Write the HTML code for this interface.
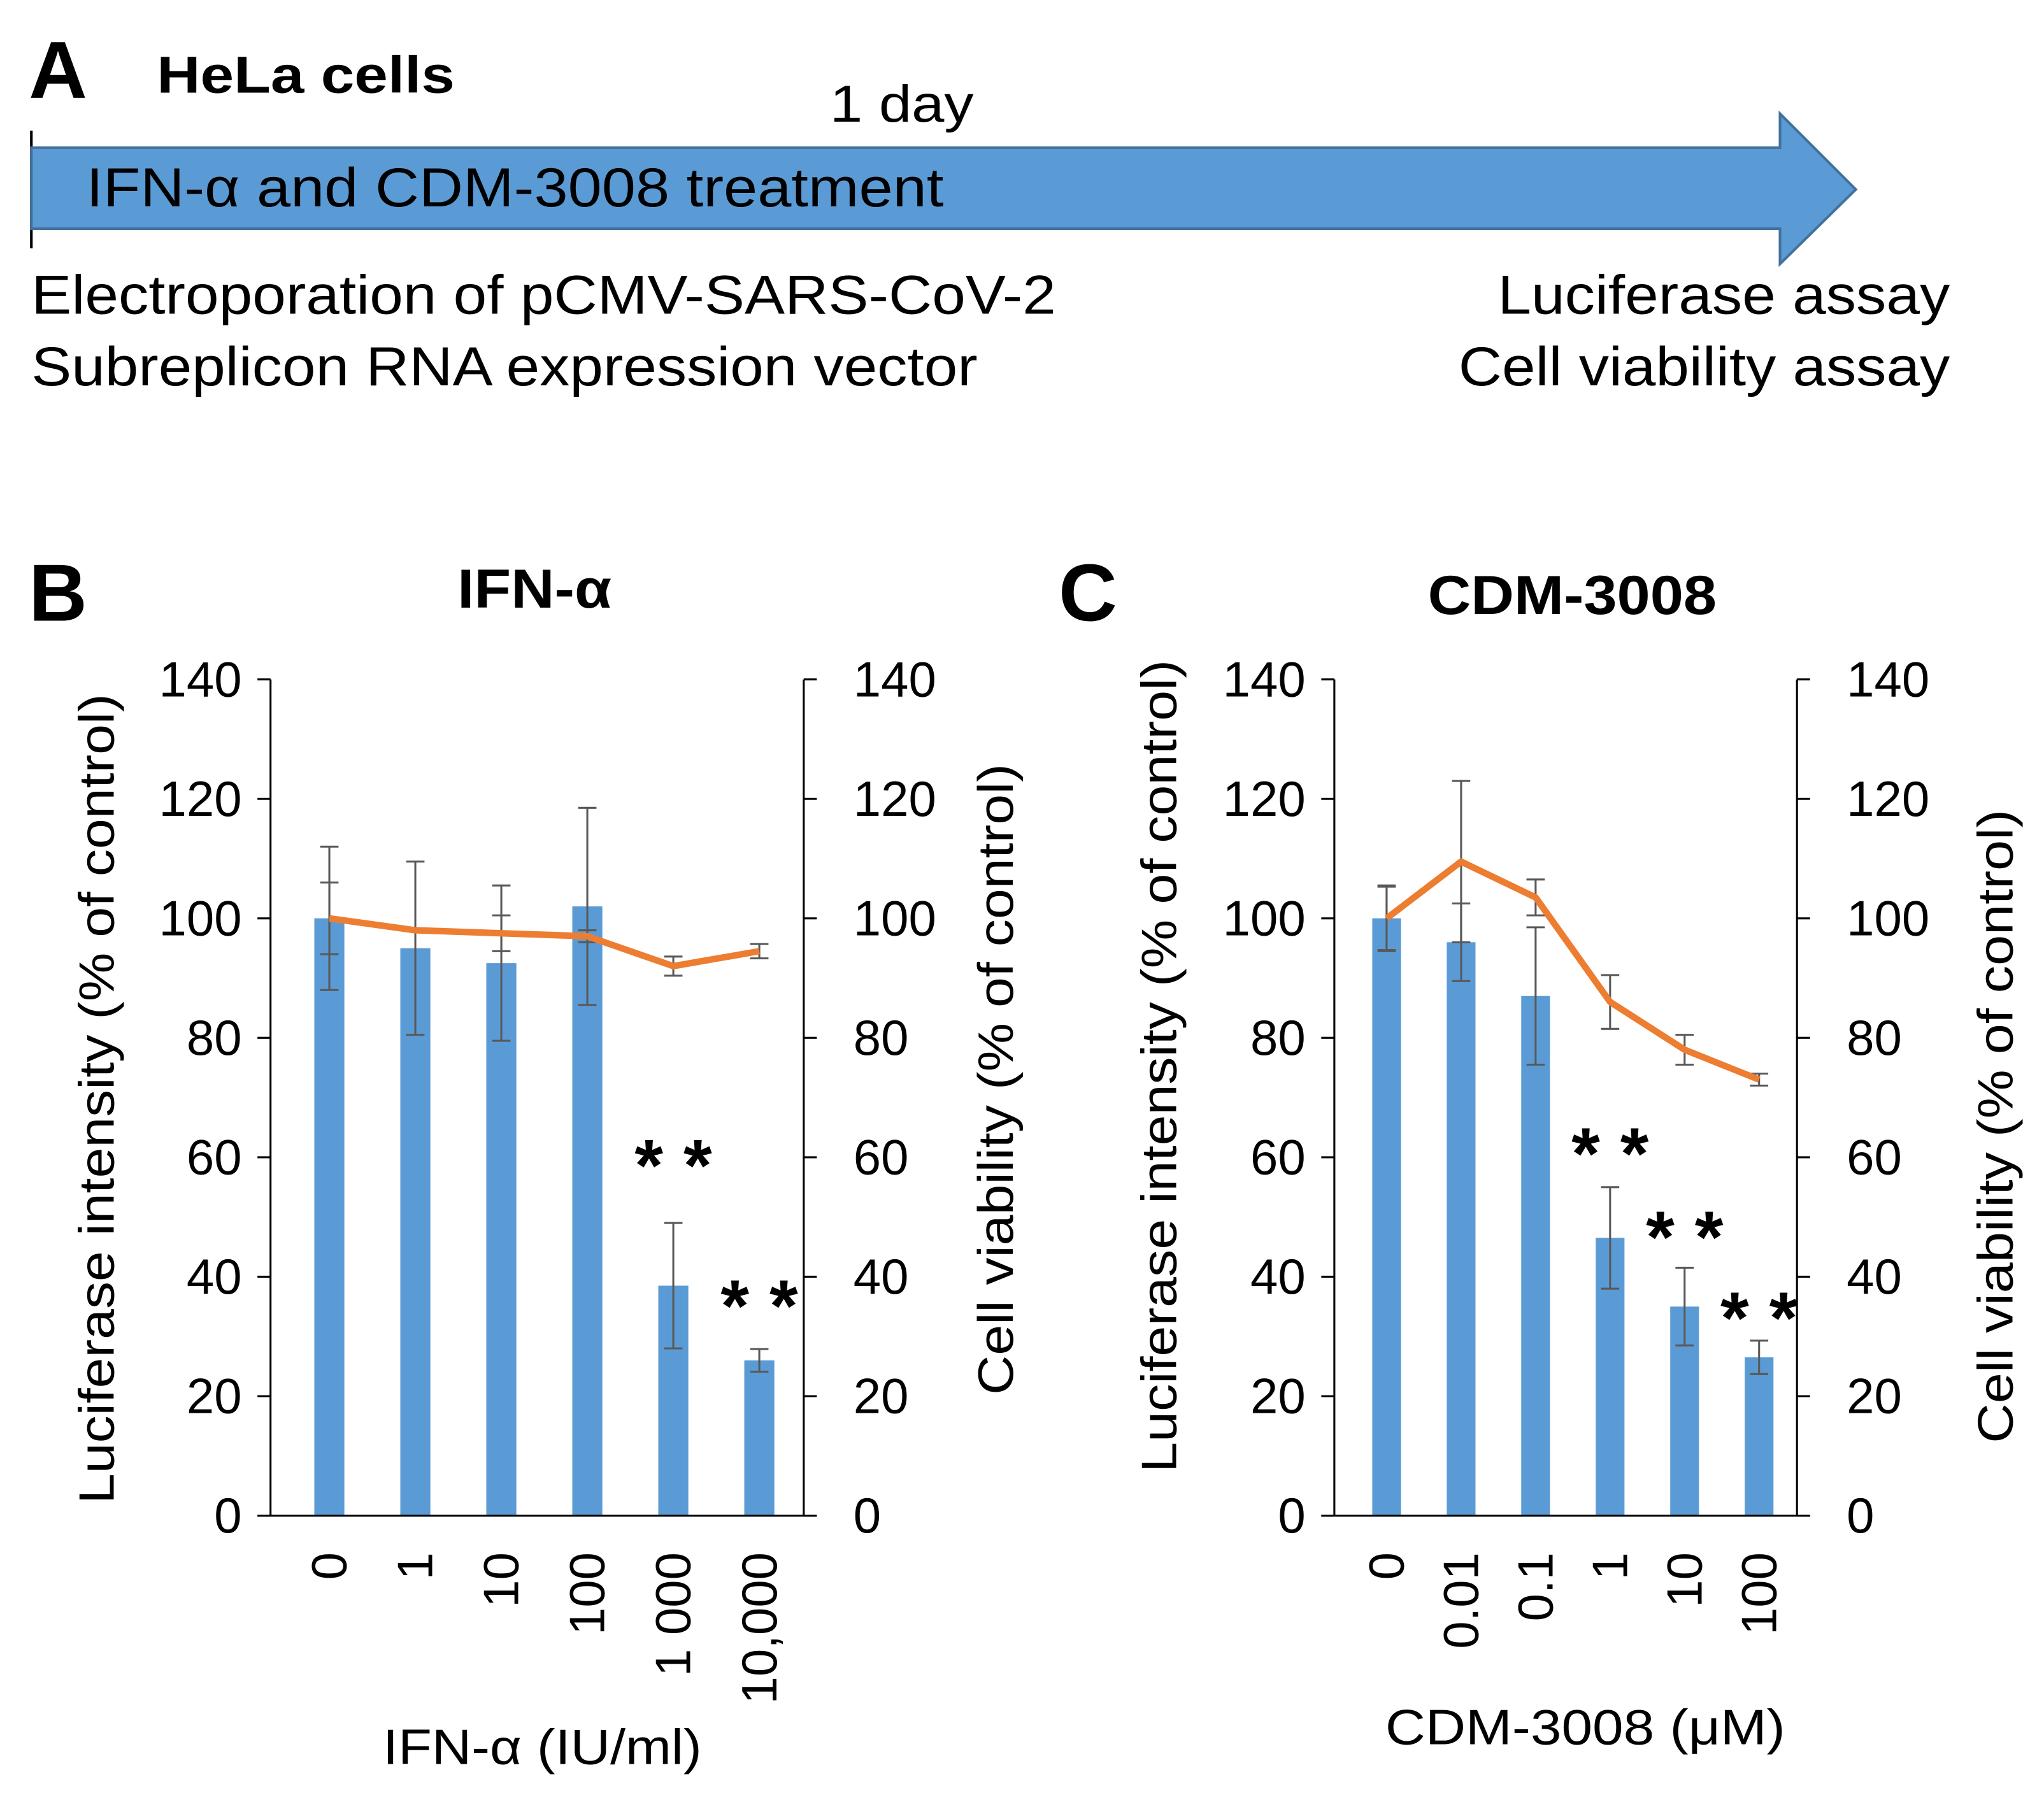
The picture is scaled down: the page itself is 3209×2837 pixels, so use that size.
<!DOCTYPE html>
<html><head><meta charset="utf-8"><style>
html,body{margin:0;padding:0;background:#fff}
svg{display:block}
text{font-family:"Liberation Sans",sans-serif;fill:#000}
</style></head><body>
<svg id="fig" width="3209" height="2837" viewBox="0 0 1564 1383" preserveAspectRatio="none" xmlns="http://www.w3.org/2000/svg">
<g>
<text x="22" y="75" font-size="62" font-weight="bold">A</text>
<text x="120" y="71" font-size="40" font-weight="bold" textLength="228" lengthAdjust="spacingAndGlyphs">HeLa cells</text>
<text x="635" y="93" font-size="40" textLength="110" lengthAdjust="spacingAndGlyphs">1 day</text>
<line x1="24" y1="100" x2="24" y2="190" stroke="#000" stroke-width="2"/>
<polygon points="24,113 1362,113 1362,87 1420,145 1362,202 1362,175 24,175" fill="#5b9bd5" stroke="#41719c" stroke-width="2"/>
<text x="66" y="158" font-size="42" textLength="656" lengthAdjust="spacingAndGlyphs">IFN-α and CDM-3008 treatment</text>
<text x="24" y="240" font-size="42" textLength="784" lengthAdjust="spacingAndGlyphs">Electroporation of pCMV-SARS-CoV-2</text>
<text x="24" y="295" font-size="42" textLength="724" lengthAdjust="spacingAndGlyphs">Subreplicon RNA expression vector</text>
<text x="1146" y="240" font-size="42" textLength="346" lengthAdjust="spacingAndGlyphs">Luciferase assay</text>
<text x="1116" y="295" font-size="42" textLength="376" lengthAdjust="spacingAndGlyphs">Cell viability assay</text>
</g>
<g id="panelB"></g>
<g id="panelC"></g>
</svg>
<script>
const bCategories = ["0","1","10","100","1 000","10,000"];
const bLuc = [100, 95, 92.5, 102, 38.5, 26];
const bLucErr = [12, 14.5, 13, 16.5, 10.5, 1.9];
const bViab = [100, 98, 97.5, 97, 92, 94.5];
const bViabErr = [6, 0, 3, 1, 1.6, 1.2];
const bSig = [false,false,false,false,true,true];
const bSigLevel = [0,0,0,0,60.5,37];

const cCategories = ["0","0.01","0.1","1","10","100"];
const cLuc = [100, 96, 87, 46.5, 35, 26.5];
const cLucErr = [5.3, 6.5, 11.5, 8.5, 6.5, 2.8];
const cViab = [100, 109.5, 103.5, 86, 78, 73];
const cViabErr = [5.5, 13.5, 3, 4.5, 2.5, 1];
const cSig = [false,false,false,true,true,true];
const cSigLevel = [0,0,0,62.5,48.5,35];

const yTicks = [0,20,40,60,80,100,120,140];
const NS = "http://www.w3.org/2000/svg";
function mk(parent, tag, attrs, txt){
  const e = document.createElementNS(NS, tag);
  for (const k in attrs) e.setAttribute(k, attrs[k]);
  if (txt !== undefined) e.textContent = txt;
  parent.appendChild(e); return e;
}
const yBottom = 1160, yTop = 520;
function yScale(v){ return yBottom - (v/140)*(yBottom-yTop); }

function drawPanel(g, cfg){
  const {xl, xr, first, last, bw, cats, luc, lucErr, viab, viabErr, sig, sigLevel} = cfg;
  const step = (last-first)/(cats.length-1);
  const xScale = i => first + step*i;
  cats.forEach((c,i)=>{
    const r = mk(g,'rect',{x:xScale(i)-bw/2,y:yScale(luc[i]),width:bw,height:yScale(0)-yScale(luc[i]),fill:'#5b9bd5'});
    
    
  });
  function errbar(i,v,e,name){
    if(!e) return;
    const x = xScale(i), y1=yScale(v-e), y2=yScale(v+e);
    const eg = mk(g,'g',{stroke:'#595959','stroke-width':1.5,fill:'none'});
    
    
    mk(eg,'line',{x1:x,y1:y1,x2:x,y2:y2});
    mk(eg,'line',{x1:x-7,y1:y1,x2:x+7,y2:y1});
    mk(eg,'line',{x1:x-7,y1:y2,x2:x+7,y2:y2});
  }
  cats.forEach((c,i)=>errbar(i,luc[i],lucErr[i],'luciferase-error-'+i));
  cats.forEach((c,i)=>errbar(i,viab[i],viabErr[i],'viability-error-'+i));
  const pts = viab.map((v,i)=>xScale(i)+','+yScale(v)).join(' ');
  const pl = mk(g,'polyline',{points:pts,fill:'none',stroke:'#ed7d31','stroke-width':5,'stroke-linejoin':'round'});
  
  
  const ax = mk(g,'g',{stroke:'#000','stroke-width':1.5});
  
  
  mk(ax,'line',{x1:xl,y1:yTop,x2:xl,y2:yBottom});
  mk(ax,'line',{x1:xr,y1:yTop,x2:xr,y2:yBottom});
  mk(ax,'line',{x1:xl-10,y1:yBottom,x2:xr+10,y2:yBottom});
  yTicks.forEach(t=>{
    mk(ax,'line',{x1:xl-10,y1:yScale(t),x2:xl,y2:yScale(t)});
    mk(ax,'line',{x1:xr,y1:yScale(t),x2:xr+10,y2:yScale(t)});
    const tl = mk(g,'text',{x:xl-22,y:yScale(t)+13,'font-size':38,'text-anchor':'end'},String(t));
    
    
    const tr = mk(g,'text',{x:xr+38,y:yScale(t)+13,'font-size':38},String(t));
    
    
  });
  cats.forEach((c,i)=>{
    const x = xScale(i)+13, y = 1188;
    const t = mk(g,'text',{x:x,y:y,'font-size':38,'text-anchor':'end',transform:`rotate(-90 ${x} ${y})`},c);
    
    
  });
  cats.forEach((c,i)=>{
    if(!sig[i]) return;
    const s = mk(g,'text',{x:xScale(i),y:yScale(sigLevel[i])+28,'font-size':56,'font-weight':'bold','text-anchor':'middle'},'* *');
    
    
  });
}
const gB = document.getElementById('panelB');
drawPanel(gB,{xl:207,xr:615,first:252,last:581,bw:23,cats:bCategories,luc:bLuc,lucErr:bLucErr,viab:bViab,viabErr:bViabErr,sig:bSig,sigLevel:bSigLevel});
const gC = document.getElementById('panelC');
drawPanel(gC,{xl:1021,xr:1375,first:1061,last:1346,bw:22,cats:cCategories,luc:cLuc,lucErr:cLucErr,viab:cViab,viabErr:cViabErr,sig:cSig,sigLevel:cSigLevel});

function label(g,name,txt,x,y,size,opts){
  opts = opts||{};
  const a = {x:x,y:y,'font-size':size,'text-anchor':opts.anchor||'middle'};
  if(opts.bold) a['font-weight']='bold';
  if(opts.len){ a.textLength=opts.len; a.lengthAdjust='spacingAndGlyphs'; }
  if(opts.rot) a.transform=`rotate(-90 ${x} ${y})`;
  const t = mk(g,'text',a,txt);
  
  
}
label(gB,'panel-b-label','B',22,475,62,{anchor:'start',bold:true});
label(gB,'panel-b-title','IFN-α',409,465,42,{bold:true,len:118});
label(gB,'left-y-axis-title','Luciferase intensity (% of control)',87,841,38,{rot:true,len:620});
label(gB,'right-y-axis-title','Cell viability (% of control)',775,826,38,{rot:true,len:483});
label(gB,'x-axis-title','IFN-α (IU/ml)',415,1350,38,{len:244});
label(gC,'panel-c-label','C',810,475,62,{anchor:'start',bold:true});
label(gC,'panel-c-title','CDM-3008',1203,470,42,{bold:true,len:221});
label(gC,'left-y-axis-title','Luciferase intensity (% of control)',900,816,38,{rot:true,len:622});
label(gC,'right-y-axis-title','Cell viability (% of control)',1540,862,38,{rot:true,len:485});
label(gC,'x-axis-title','CDM-3008 (μM)',1213,1335,38,{len:306});
</script>
</body></html>
